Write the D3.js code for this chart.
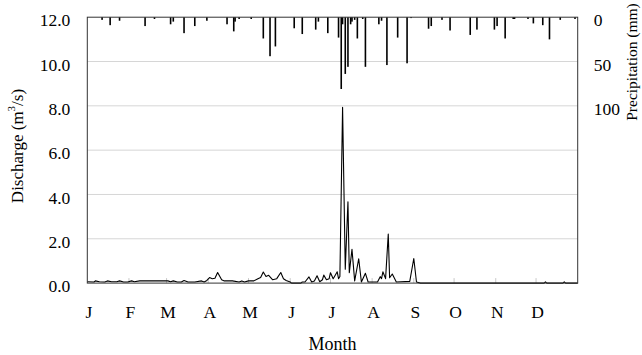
<!DOCTYPE html>
<html><head><meta charset="utf-8">
<script src="https://cdn.jsdelivr.net/npm/d3@7"></script>
<style>
html,body{margin:0;padding:0;background:#fff;}
svg{display:block;}
svg text{font-family:"Liberation Serif","Times New Roman",serif !important;fill:#000;}
</style></head>
<body>
<svg id="c" width="642" height="355"></svg>
<script>
// ---- data ----
const months = ["J","F","M","A","M","J","J","A","S","O","N","D"];
const monthStartDays = [0,31,59,90,120,151,181,212,243,273,304,334];
const dischargeTicks = [0,2,4,6,8,10,12];
const precipTicks = [0,50,100];

// discharge (m3/s), day of year
const dischargeDays = [0,5,6,9,13,15,18,22,24,27,30,33,35,39,45,55,60,62,64,67,70,72,75,80,85,87,89,91,93,95,97,100,102,108,113,115,117,120,124,127,129,131,133,135,138,141,144,146,148,151,152,159,160,162,165,167,169,171,173,175,176,178,180,181,183,184,186,187,188,190,192,194,195,197,199,202,204,207,209,216,218,219,220,222,224,225,227,230,240,243,245,248,340,341,342,354,355,356,365];
const dischargeValues = [0.06,0.05,0.1,0.06,0.05,0.1,0.06,0.06,0.1,0.05,0.05,0.1,0.06,0.1,0.1,0.1,0.1,0.06,0.1,0.05,0.05,0.12,0.05,0.05,0.1,0.05,0.12,0.25,0.2,0.22,0.48,0.15,0.1,0.1,0.05,0.1,0.05,0.1,0.1,0.2,0.25,0.5,0.3,0.35,0.15,0.2,0.48,0.2,0.12,0.05,0,0,0.05,0.05,0.28,0.05,0.1,0.33,0.06,0.15,0.36,0.15,0.2,0.47,0.2,0.3,0.51,0.2,0.3,7.93,0.63,3.67,0.47,1.52,0.1,1.1,0.05,0.44,0.05,0.05,0.29,0.2,0.51,0.2,2.21,0.24,0.41,0.05,0.08,1.11,0.05,0,0,0.06,0,0,0.06,0,0];

// precipitation (mm), day of year
const precipDays = [11,17,24,43,50,62,64,72,80,89,104,109,110,113,122,131,136,140,154,160,170,172,179,187,189,190,192,194,196,197,199,201,205,207,217,219,223,231,238,241,254,256,264,270,285,290,303,305,311,317,318,328,332,339,344,352,363];
const precipValues = [3,9,4,10,2,8,5,18,10,4,8,16,5,2,2,24,44,33,12.5,19,14,5,18,23,81,8,64,56,8,5,3,24,2,56,8,4,54,23,52,1,13,10,3,15,20,14,14,10,24,2,2,2,7,9,25,3,2];

// ---- chart ----
const FONT = "'Liberation Serif', 'Times New Roman', serif";
const svg = d3.select("#c");
const L = 87.3, R = 577.7, T = 17.2, B = 283.1;
const x = d3.scaleLinear().domain([0,365]).range([L,R]);
const y = d3.scaleLinear().domain([0,12]).range([B,T]);
const yp = d3.scaleLinear().domain([0,300]).range([T,B]);

// gridlines
svg.append("g").selectAll("line").data(dischargeTicks.slice(1,-1)).join("line")
  .attr("x1",L).attr("x2",R).attr("y1",d=>y(d)).attr("y2",d=>y(d))
  .attr("stroke","#d6d6d6").attr("stroke-width",1);

// month ticks
svg.append("g").selectAll("line").data(monthStartDays.slice(1)).join("line")
  .attr("x1",d=>x(d)).attr("x2",d=>x(d)).attr("y1",B).attr("y2",B-5)
  .attr("stroke","#c8c8c8").attr("stroke-width",1);

// precipitation bars
svg.append("g").selectAll("rect").data(precipDays.map((d,i)=>[d,precipValues[i]])).join("rect")
  .attr("x",d=>x(d[0])-0.8).attr("width",1.6)
  .attr("y",T).attr("height",d=>yp(d[1])-T)
  .attr("fill","#000");

// discharge line
const line = d3.line().x(d=>x(d[0])).y(d=>y(d[1]));
svg.append("path").datum(dischargeDays.map((d,i)=>[d,dischargeValues[i]]))
  .attr("d",line).attr("fill","none").attr("stroke","#000").attr("stroke-width",1.1)
  .attr("stroke-linejoin","round");

// frame
svg.append("rect").attr("x",L).attr("y",T).attr("width",R-L).attr("height",B-T)
  .attr("fill","none").attr("stroke","#333").attr("stroke-width",1);

// left axis
const ax = svg.append("g").attr("transform",`translate(${L},0)`)
  .call(d3.axisLeft(y).tickValues(dischargeTicks).tickFormat(d3.format(".1f")).tickSize(0).tickPadding(17));
ax.attr("font-family",FONT).attr("font-size",17.5);
ax.select(".domain").remove();
ax.selectAll("text").attr("dy","0.5em");

// right axis
const axr = svg.append("g").attr("transform",`translate(${R},0)`)
  .call(d3.axisRight(yp).tickValues(precipTicks).tickFormat(d3.format("d")).tickSize(0).tickPadding(16));
axr.attr("font-family",FONT).attr("font-size",17.5);
axr.select(".domain").remove();
axr.selectAll("text").attr("dy","0.5em");

// month labels
svg.append("g").attr("font-family",FONT).selectAll("text").data(months).join("text")
  .attr("x",(d,i)=>x(monthStartDays[i])+1.5).attr("y",318)
  .attr("text-anchor","middle").attr("font-size",17.5).text(d=>d);

// axis titles
svg.append("text").attr("font-family",FONT).attr("x",(L+R)/2).attr("y",350).attr("text-anchor","middle")
  .attr("font-size",18).text("Month");

const yl = svg.append("text").attr("font-family",FONT).attr("transform","translate(23,146) rotate(-90)")
  .attr("text-anchor","middle").attr("font-size",17);
yl.append("tspan").text("Discharge (m");
yl.append("tspan").attr("font-size",11).attr("dy","-0.7em").text("3");
yl.append("tspan").attr("dy","0.45em").text("/s)");

svg.append("text").attr("font-family",FONT).attr("transform","translate(637,62) rotate(-90)")
  .attr("text-anchor","middle").attr("font-size",15.5).text("Precipitation (mm)");
</script>
</body></html>
